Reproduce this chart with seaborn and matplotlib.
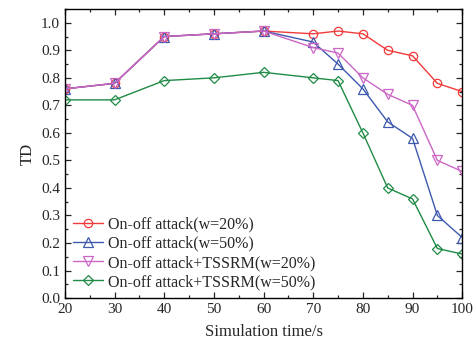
import matplotlib
matplotlib.use("Agg")
import matplotlib.pyplot as plt
from matplotlib.ticker import MultipleLocator
import seaborn as sns
import pandas as pd

time_s = [20, 30, 40, 50, 60, 70, 75, 80, 85, 90, 95, 100]
onoff_w20 = [0.76, 0.78, 0.95, 0.96, 0.97, 0.96, 0.97, 0.96, 0.90, 0.88, 0.78, 0.75]
onoff_w50 = [0.76, 0.78, 0.95, 0.96, 0.97, 0.93, 0.85, 0.76, 0.64, 0.58, 0.30, 0.22]
tssrm_w20 = [0.76, 0.78, 0.95, 0.96, 0.97, 0.91, 0.89, 0.80, 0.74, 0.70, 0.50, 0.46]
tssrm_w50 = [0.72, 0.72, 0.79, 0.80, 0.82, 0.80, 0.79, 0.60, 0.40, 0.36, 0.18, 0.16]

labels = ["On-off attack(w=20%)", "On-off attack(w=50%)",
          "On-off attack+TSSRM(w=20%)", "On-off attack+TSSRM(w=50%)"]
series = [onoff_w20, onoff_w50, tssrm_w20, tssrm_w50]
colors = ["#F23A3A", "#3D59AE", "#CC66C4", "#1F8B45"]
markers = ["o", "^", "v", "D"]
msizes = [6, 6.5, 6.5, 5]

sns.set_style("ticks")
plt.rcParams["font.family"] = ["Liberation Serif", "DejaVu Serif"]
plt.rcParams["mathtext.fontset"] = "stix"

fig = plt.figure(figsize=(4.77, 3.47), dpi=100)
ax = fig.add_axes([0.136, 0.141, 0.833, 0.833])

for lab, vals, c, m, ms in zip(labels, series, colors, markers, msizes):
    df = pd.DataFrame({"time": time_s, "TD": vals})
    sns.lineplot(data=df, x="time", y="TD", ax=ax, color=c, marker=m,
                 markersize=ms, markerfacecolor="none", markeredgecolor=c,
                 markeredgewidth=0.9, linewidth=1.0, label=lab)

ax.set_xlim(20, 100)
ax.set_ylim(0.0, 1.05)
ax.xaxis.set_major_locator(MultipleLocator(10))
ax.xaxis.set_minor_locator(MultipleLocator(5))
ax.yaxis.set_major_locator(MultipleLocator(0.1))
ax.yaxis.set_minor_locator(MultipleLocator(0.05))
ax.yaxis.set_major_formatter(matplotlib.ticker.FormatStrFormatter("%.1f"))
ax.tick_params(which="both", direction="in", top=True, right=True,
               labelsize=11, width=0.9)
ax.tick_params(which="major", length=4.5)
ax.tick_params(which="minor", length=2.5)
for sp in ax.spines.values():
    sp.set_linewidth(1.0)
    sp.set_color("black")

ax.set_xlabel("Simulation time/s", fontsize=12, labelpad=6)
ax.set_ylabel("TD", fontsize=12, labelpad=4)

ax.legend(loc="lower left", frameon=False, fontsize=11.5, handlelength=1.9,
          handletextpad=0.3, labelspacing=0.2, borderaxespad=0.1,
          bbox_to_anchor=(0.0, 0.0))

fig.savefig("out.png", dpi=100)
